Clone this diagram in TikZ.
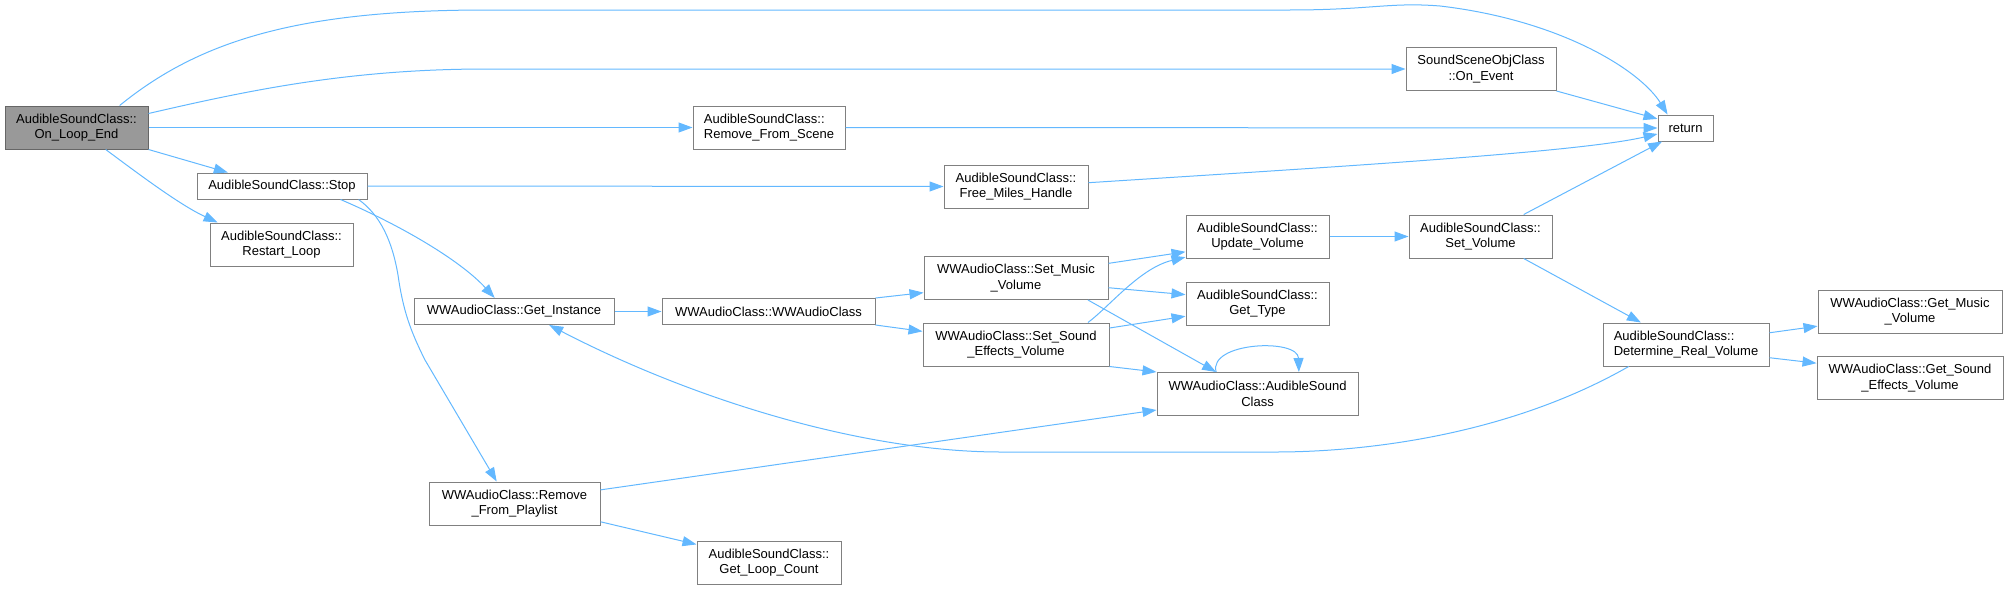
\documentclass[tikz,border=0pt]{standalone}
\usepackage{fontspec}
\setmainfont{Liberation Sans}
\usetikzlibrary{arrows.meta}
\definecolor{edgec}{HTML}{63B8FF}
\definecolor{bordc}{HTML}{808080}
\definecolor{rootf}{HTML}{999999}
\definecolor{rootb}{HTML}{666666}
\begin{document}
\begin{tikzpicture}[x=1pt,y=-1pt,
  box/.style={draw=bordc, fill=white, line width=1pt, inner sep=0pt, align=center, font=\fontsize{13}{15.7}\selectfont},
  rootbox/.style={box, fill=rootf, draw=rootb},
  edge/.style={draw=edgec, line width=1pt, -{Triangle[length=14pt,width=10pt]}}
]
\useasboundingbox (0,0) rectangle (2009,589);

\node[rootbox, minimum width=143pt, minimum height=43pt] (ole) at (76.5,127.5) {AudibleSoundClass::\\On\_Loop\_End};
\node[box, minimum width=170pt, minimum height=26pt] (stop) at (282,186) {AudibleSoundClass::Stop};
\node[box, minimum width=143pt, minimum height=43pt] (restart) at (281.5,244.5) {AudibleSoundClass::\\Restart\_Loop};
\node[box, minimum width=152pt, minimum height=43pt, align=left] (rfs) at (769,127.5) {AudibleSoundClass::\\Remove\_From\_Scene};
\node[box, minimum width=150pt, minimum height=43pt] (onev) at (1481,69) {SoundSceneObjClass\\::On\_Event};
\node[box, minimum width=55pt, minimum height=26pt] (ret) at (1685.5,128) {return};
\node[box, minimum width=144pt, minimum height=43pt] (fmh) at (1016,186.5) {AudibleSoundClass::\\Free\_Miles\_Handle};
\node[box, minimum width=200pt, minimum height=26pt] (gi) at (514,311.5) {WWAudioClass::Get\_Instance};
\node[box, minimum width=213pt, minimum height=26pt] (wwa) at (768.5,311.5) {WWAudioClass::WWAudioClass};
\node[box, minimum width=184pt, minimum height=43pt] (smv) at (1016,278) {WWAudioClass::Set\_Music\\\_Volume};
\node[box, minimum width=186pt, minimum height=43pt] (ssev) at (1016,344.5) {WWAudioClass::Set\_Sound\\\_Effects\_Volume};
\node[box, minimum width=143pt, minimum height=43pt] (uv) at (1257.5,236.5) {AudibleSoundClass::\\Update\_Volume};
\node[box, minimum width=143pt, minimum height=43pt] (gt) at (1257.5,303.5) {AudibleSoundClass::\\Get\_Type};
\node[box, minimum width=201pt, minimum height=43pt] (asc) at (1257.5,394) {WWAudioClass::AudibleSound\\Class};
\node[box, minimum width=143pt, minimum height=43pt] (sv) at (1480.5,236.5) {AudibleSoundClass::\\Set\_Volume};
\node[box, minimum width=166pt, minimum height=43pt, align=left] (drv) at (1686,344.5) {AudibleSoundClass::\\Determine\_Real\_Volume};
\node[box, minimum width=184pt, minimum height=43pt] (gmv) at (1910,311.5) {WWAudioClass::Get\_Music\\\_Volume};
\node[box, minimum width=186pt, minimum height=43pt] (gsev) at (1910,378) {WWAudioClass::Get\_Sound\\\_Effects\_Volume};
\node[box, minimum width=171pt, minimum height=43pt] (rfp) at (514.5,503.5) {WWAudioClass::Remove\\\_From\_Playlist};
\node[box, minimum width=144pt, minimum height=43pt] (glc) at (769,562.5) {AudibleSoundClass::\\Get\_Loop\_Count};

% edges from On_Loop_End
\draw[edge] (ole.27.4) .. controls (200,40) and (300,10) .. (487,10) -- (1290,10)
  .. controls (1370,10) and (1390,2) .. (1440,6) .. controls (1560,20) and (1640,70) .. (ret.143);
\draw[edge] (ole.11.5) .. controls (250,90) and (350,69) .. (487,69) -- (onev.west);
\draw[edge] (ole.east) -- (rfs.west);
\draw[edge] (ole.south east) -- (stop.166);
\draw[edge] (ole.-37) .. controls (140,175) and (180,205) .. (restart.161.3);

% edges from Stop
\draw[edge] (stop.east) -- (fmh.west);
\draw[edge] (stop.-13) .. controls (400,225) and (460,260) .. (gi.145);
\draw[edge] (stop.-10.8) .. controls (380,215) and (392,240) .. (398,275)
  .. controls (403,310) and (410,330) .. (425,360) -- (rfp.129);

% to return
\draw[edge] (rfs.east) -- (ret.west);
\draw[edge] (onev.south east) -- (ret.162);
\draw[edge] (fmh.3.6) .. controls (1350,166) and (1580,152) .. (ret.192);
\draw[edge] (sv.27.4) -- (ret.210);

% WWAudio chain
\draw[edge] (gi.east) -- (wwa.west);
\draw[edge] (wwa.north east) -- (smv.189);
\draw[edge] (wwa.south east) -- (ssev.172);
\draw[edge] (smv.9) -- (uv.192);
\draw[edge] (smv.-6) -- (gt.173);
\draw[edge] (smv.-17.6) -- (asc.152);
\draw[edge] (ssev.17.3) .. controls (1110,306) and (1140,268) .. (uv.196);
\draw[edge] (ssev.10) -- (gt.190);
\draw[edge] (ssev.south east) -- (asc.north west);
\draw[edge] (asc.152) .. controls (1208,342) and (1298,338) .. (asc.28);

% volume chain
\draw[edge] (uv.east) -- (sv.west);
\draw[edge] (sv.-27) -- (drv.154.5);
\draw[edge] (drv.8.8) -- (gmv.189.4);
\draw[edge] (drv.-9) -- (gsev.171);
\draw[edge] (drv.201.7) .. controls (1500,440) and (1350,452) .. (1276,452) -- (1001,452)
  .. controls (860,452) and (690,398) .. (gi.-21.7);

% playlist
\draw[edge] (rfp.9) -- (asc.189);
\draw[edge] (rfp.-12.8) -- (glc.166.7);
\end{tikzpicture}
\end{document}
